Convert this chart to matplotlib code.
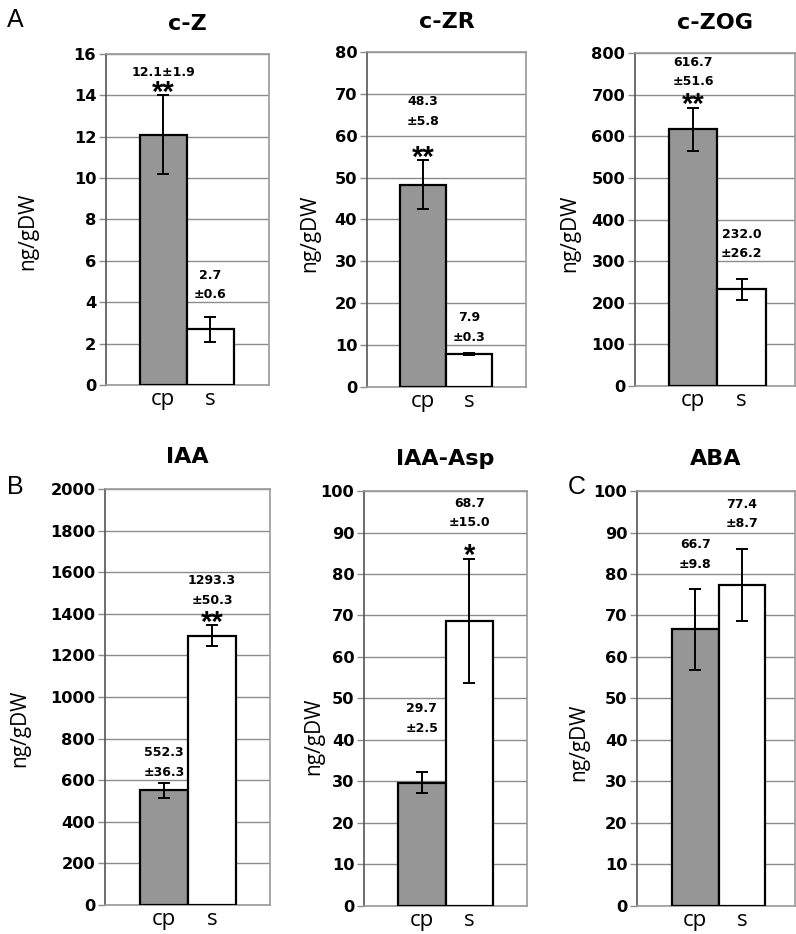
import matplotlib.pyplot as plt
import numpy as np

plt.rcParams['font.family'] = ['Liberation Sans', 'DejaVu Sans']

# data
hormones = ["c-Z", "c-ZR", "c-ZOG", "IAA", "IAA-Asp", "ABA"]
cp_mean = [12.1, 48.3, 616.7, 552.3, 29.7, 66.7]
cp_err = [1.9, 5.8, 51.6, 36.3, 2.5, 9.8]
s_mean = [2.7, 7.9, 232.0, 1293.3, 68.7, 77.4]
s_err = [0.6, 0.3, 26.2, 50.3, 15.0, 8.7]
cp_star = ["**", "**", "**", "", "", ""]
s_star = ["", "", "", "**", "*", ""]
ymax = [16, 80, 800, 2000, 100, 100]
ystep = [2, 10, 100, 200, 10, 10]
groups = ["cp", "s"]

# layout (figure fractions / data units / pixels)
W, H = 796, 934
rects = [
    [0.1332, 0.5878, 0.2048, 0.3544],
    [0.4610, 0.5857, 0.1997, 0.3587],
    [0.7977, 0.5867, 0.2010, 0.3565],
    [0.1319, 0.0311, 0.2073, 0.4454],
    [0.4573, 0.0300, 0.2048, 0.4443],
    [0.8003, 0.0300, 0.1985, 0.4443],
]
xlims = [(-1.22, 2.25), (-1.22, 2.24), (-1.20, 2.10), (-1.23, 2.21), (-1.22, 2.22), (-1.25, 2.14)]
cp_lab_y = [15.1, 65.8, 754, 685, 45.2, 84.7]
s_lab_y = [4.83, 14.2, 341, 1512, 94.7, 94.5]
one_line = [True, False, False, False, False, False]
title_pad = [17.3, 17.3, 17.3, 18.7, 18.7, 18.7]
ylab_off = [78, 57, 65, 85, 50, 58]
ylab_y = [0.465, 0.46, 0.46, 0.425, 0.41, 0.395]

fig = plt.figure(figsize=(W / 100, H / 100), dpi=100)

for i, name in enumerate(hormones):
    ax = fig.add_axes(rects[i])
    means = [cp_mean[i], s_mean[i]]
    errs = [cp_err[i], s_err[i]]
    x = np.arange(2)
    ax.bar(x, means, width=1.0, color=["#969696", "white"], edgecolor="black",
           linewidth=1.6, zorder=3)
    ax.errorbar(x, means, yerr=errs, fmt="none", ecolor="black", elinewidth=1.4,
                capsize=4.5, capthick=1.4, zorder=4)
    ax.set_xlim(*xlims[i])
    ax.set_ylim(0, ymax[i])
    ax.set_yticks(np.arange(0, ymax[i] + 1e-9, ystep[i]))
    ax.yaxis.grid(True, color="#8c8c8c", linewidth=1.0, zorder=0)
    ax.set_axisbelow(True)
    ax.set_xticks(x)
    ax.set_xticklabels(groups, fontsize=16, family="Open Sans")
    ax.tick_params(axis="x", length=0, pad=3)
    ax.tick_params(axis="y", length=5, color="#8c8c8c", width=1.0, pad=2)
    for t in ax.get_yticklabels():
        t.set_fontweight("bold")
        t.set_family("DejaVu Sans")
        t.set_fontsize(11.7)
    for side in ["top", "right", "bottom"]:
        ax.spines[side].set_color("#9a9a9a")
        ax.spines[side].set_linewidth(1.2)
    ax.spines["left"].set_color("#555555")
    ax.spines["left"].set_linewidth(1.2)
    ax.text(-ylab_off[i] / (rects[i][2] * W), ylab_y[i], "ng/gDW", transform=ax.transAxes,
            rotation=90, ha="center", va="center", fontsize=15, family="Open Sans")
    ax.set_title(name, fontsize=16, fontweight="bold", family="DejaVu Sans", pad=title_pad[i])

    # value labels
    if one_line[i]:
        cp_text = f"{cp_mean[i]:.1f}±{cp_err[i]:.1f}"
    else:
        cp_text = f"{cp_mean[i]:.1f}\n±{cp_err[i]:.1f}"
    s_text = f"{s_mean[i]:.1f}\n±{s_err[i]:.1f}"
    for xi, txt, ly in [(0, cp_text, cp_lab_y[i]), (1, s_text, s_lab_y[i])]:
        ax.text(xi, ly, txt, ha="center", va="center", fontsize=9, family="DejaVu Sans",
                fontweight="bold", linespacing=1.65, zorder=5)
    for xi, star in zip(x, [cp_star[i], s_star[i]]):
        if star:
            top = means[xi] + errs[xi]
            ax.annotate(star, (xi, top), xytext=(0, -8), textcoords="offset points",
                        ha="center", va="bottom", fontsize=21, fontweight="bold", zorder=5)

fig.text(0.009, 0.979, "A", fontsize=18, va="center", ha="left")
fig.text(0.009, 0.479, "B", fontsize=18, va="center", ha="left")
fig.text(0.713, 0.479, "C", fontsize=18, va="center", ha="left")

fig.savefig("out.png", dpi=100)
